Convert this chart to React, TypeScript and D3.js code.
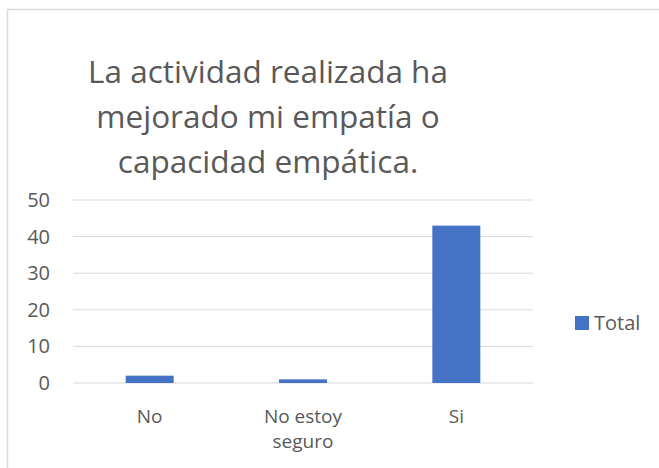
import React from "react";
import * as d3 from "d3";

const categories: string[][] = [["No"], ["No estoy", "seguro"], ["Si"]];
const categoryKeys = ["No", "No estoy seguro", "Si"];
const values = [2, 1, 43];
const yTicks = [0, 10, 20, 30, 40, 50];
const titleLines = ["La actividad realizada ha", "mejorado mi empatía o", "capacidad empática."];
const seriesName = "Total";

const W = 659;
const H = 468;
const FONT = "'Open Sans', 'Noto Sans', sans-serif";
const TEXT = "#595959";
const GRID = "#d9d9d9";
const BAR = "#4472C4";

export default function App() {
  const x = d3.scaleBand<string>().domain(categoryKeys).range([73, 533]).paddingInner(0.687).paddingOuter(0.3435);
  const y = d3.scaleLinear().domain([0, 50]).range([383, 200]);

  return (
    <svg width={W} height={H} style={{ position: "absolute", left: 0, top: 0, background: "#fff" }}>
      <rect x={7.5} y={9.5} width={W + 10} height={H + 10} fill="#fff" stroke={GRID} strokeWidth={1.5} />
      {titleLines.map((t, i) => (
        <text key={i} x={268} y={83 + i * 45} textAnchor="middle" fontFamily={FONT} fontSize={31.5} fill={TEXT}>
          {t}
        </text>
      ))}
      {yTicks.map((t) => (
        <g key={t}>
          <line x1={73} x2={533} y1={y(t)} y2={y(t)} stroke={GRID} strokeWidth={1} />
          <text x={50} y={y(t) + 7} textAnchor="end" fontFamily={FONT} fontSize={20} fill={TEXT}>
            {t}
          </text>
        </g>
      ))}
      {categoryKeys.map((c, i) => (
        <rect key={c} x={x(c)} y={y(values[i])} width={x.bandwidth()} height={y(0) - y(values[i])} fill={BAR} />
      ))}
      {categoryKeys.map((c, i) => (
        <text key={c} textAnchor="middle" fontFamily={FONT} fontSize={19} fill={TEXT}>
          {categories[i].map((l, j) => (
            <tspan key={j} x={(x(c) as number) + x.bandwidth() / 2} y={423 + j * 25}>
              {l}
            </tspan>
          ))}
        </text>
      ))}
      <rect x={575} y={316} width={14} height={14} fill={BAR} />
      <text x={594} y={330} fontFamily={FONT} fontSize={20} fill={TEXT}>
        {seriesName}
      </text>
    </svg>
  );
}
